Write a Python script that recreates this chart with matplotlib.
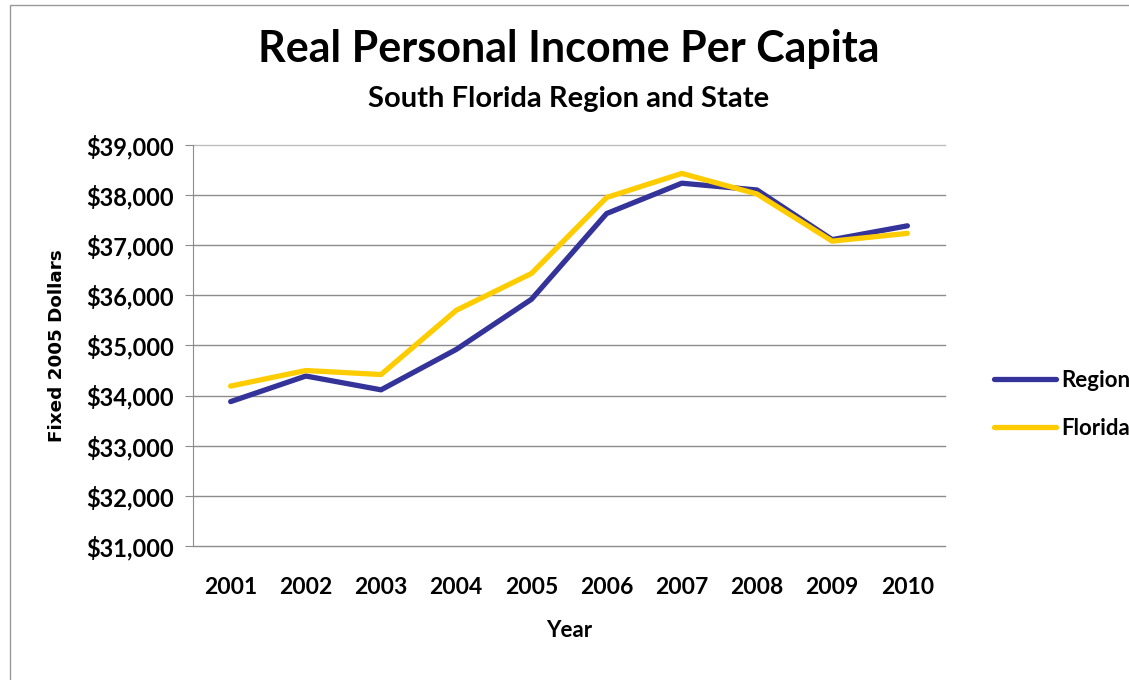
import matplotlib.pyplot as plt
from matplotlib.patches import Rectangle
from matplotlib.ticker import FuncFormatter

years = ['2001', '2002', '2003', '2004', '2005', '2006', '2007', '2008', '2009', '2010']
region = [33880, 34390, 34115, 34920, 35920, 37630, 38235, 38100, 37110, 37385]
florida = [34190, 34500, 34420, 35700, 36435, 37950, 38430, 38020, 37080, 37235]

plt.rcParams['font.family'] = ['Lato', 'DejaVu Sans']

fig = plt.figure(figsize=(11.29, 6.80), dpi=100)
ax = fig.add_axes([0.171, 0.197, 0.666, 0.590])

# outer chart border
fig.patches.append(Rectangle((10 / 1129, -0.1), 1.2, 1.093,
                             transform=fig.transFigure, fill=False,
                             edgecolor='#999999', linewidth=1))

x = range(len(years))
ax.plot(x, region, color='#333399', linewidth=3.8, label='Region', solid_capstyle='round')
ax.plot(x, florida, color='#FFCC00', linewidth=3.8, label='Florida', solid_capstyle='round')

ax.set_xlim(-0.5, len(years) - 0.5)
ax.set_ylim(31000, 39000)
ax.set_yticks(range(31000, 39001, 1000))
ax.yaxis.set_major_formatter(FuncFormatter(lambda v, p: '${:,.0f}'.format(v)))
ax.set_xticks(list(x))
ax.set_xticklabels(years)

ax.grid(axis='y', color='#8c8c8c', linewidth=1)
for gl in ax.get_ygridlines():
    gl.set_clip_on(False)
ax.get_ygridlines()[-1].set_color('#bdbdbd')
ax.set_axisbelow(True)
for s in ['top', 'right', 'bottom']:
    ax.spines[s].set_visible(False)
ax.spines['left'].set_color('#8c8c8c')
ax.tick_params(axis='y', length=6, color='#8c8c8c', pad=8, labelsize=17)
ax.tick_params(axis='x', length=0, pad=22, labelsize=16.5)
for lbl in ax.get_xticklabels() + ax.get_yticklabels():
    lbl.set_fontweight('bold')

ax.set_xlabel('Year', fontsize=16, fontweight='bold', labelpad=16)
ax.set_ylabel('Fixed 2005 Dollars', fontsize=13.2, fontweight='bold',
              family='DejaVu Sans', labelpad=14)

fig.text(0.504, 0.928, 'Real Personal Income Per Capita', ha='center', va='center',
         fontsize=31, fontweight='bold')
fig.text(0.504, 0.855, 'South Florida Region and State', ha='center', va='center',
         fontsize=21, fontweight='bold')

leg = ax.legend(loc='center left', bbox_to_anchor=(1.05, 0.353), frameon=False,
                fontsize=16, handlelength=2.8, labelspacing=1.2, handletextpad=0.25,
                borderpad=0)
for t in leg.get_texts():
    t.set_fontweight('bold')

fig.savefig('out.png', dpi=100)
